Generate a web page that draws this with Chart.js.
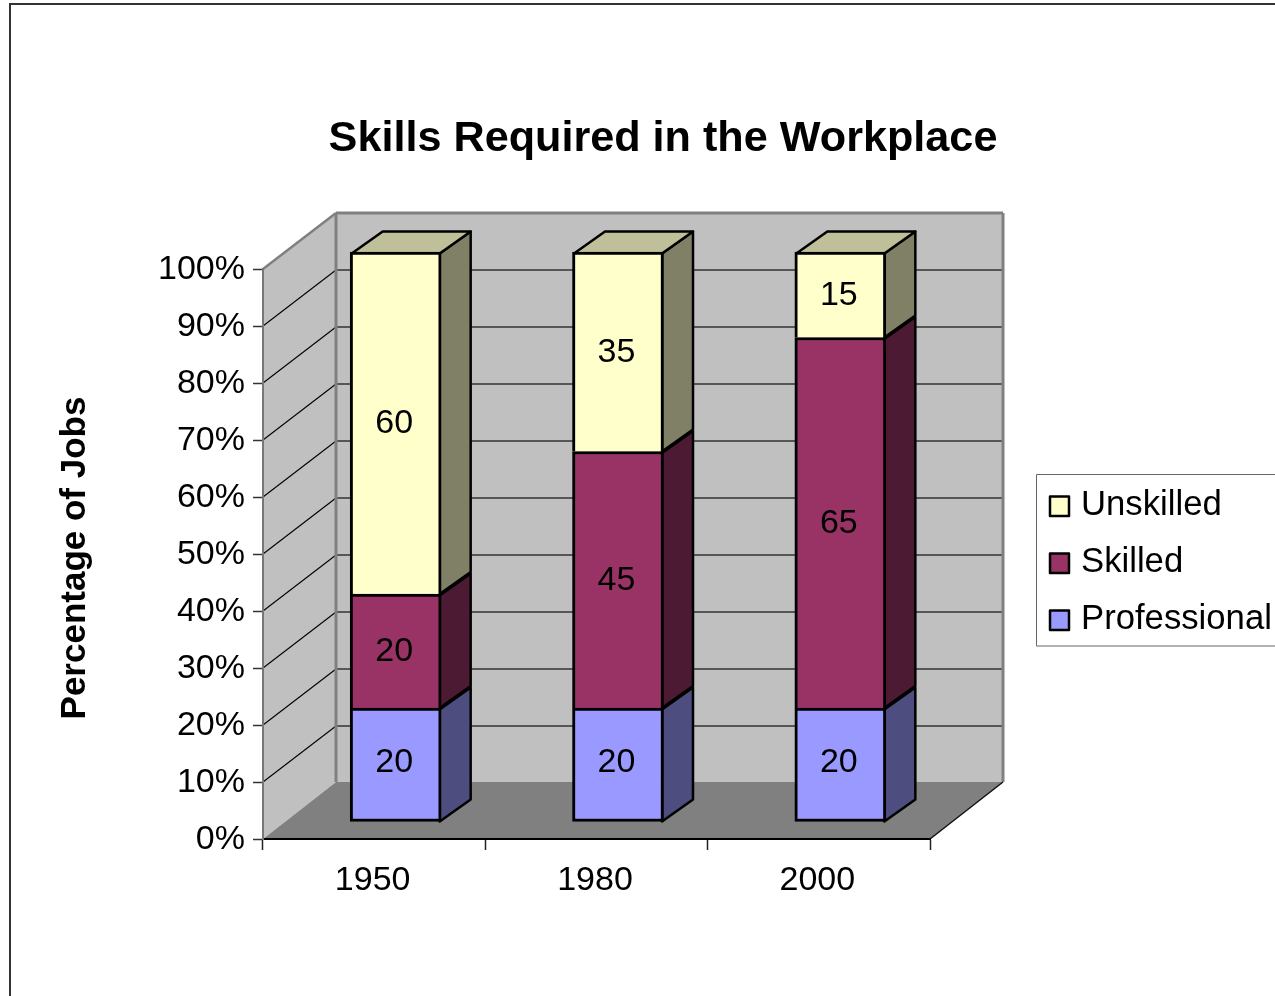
<!DOCTYPE html>
<html>
<head>
<meta charset="utf-8">
<title>Skills Required in the Workplace</title>
<script src="https://cdn.jsdelivr.net/npm/chart.js@4/dist/chart.umd.min.js"></script>
<style>
  html, body { margin: 0; padding: 0; background: #fff; overflow: hidden; }
  canvas { display: block; }
</style>
</head>
<body>
<canvas id="myChart" width="1275" height="996"></canvas>
<script>
const years = ['1950', '1980', '2000'];
const professional = [20, 20, 20];
const skilled = [20, 45, 65];
const unskilled = [60, 35, 15];

const FONT = '"Liberation Sans", Arial, sans-serif';
const frontColors = ['#9999FF', '#993366', '#FFFFCC'];
const sideColors = ['#4D4D80', '#4D1A33', '#808066'];
const topColor = '#BFBF99';

// how far the back wall sits from the axes, and the bars from the axes
const wallX = 73, wallY = -56;
const barX = 21.5, barY = -17;
const depthX = 31, depthY = -22;

function poly(ctx, pts, fill, stroke, lw) {
  ctx.beginPath();
  pts.forEach((p, i) => i ? ctx.lineTo(p[0], p[1]) : ctx.moveTo(p[0], p[1]));
  ctx.closePath();
  if (fill) { ctx.fillStyle = fill; ctx.fill(); }
  if (stroke) { ctx.strokeStyle = stroke; ctx.lineWidth = lw; ctx.lineJoin = 'round'; ctx.stroke(); }
}

function line(ctx, x1, y1, x2, y2, color, lw) {
  ctx.beginPath();
  ctx.moveTo(x1, y1);
  ctx.lineTo(x2, y2);
  ctx.strokeStyle = color;
  ctx.lineWidth = lw;
  ctx.stroke();
}

const box3d = {
  id: 'box3d',
  afterLayout(chart) {
    // title is centred on the picture area, not on the plot
    chart.titleBlock.left = 0;
    chart.titleBlock.right = 1326;
    // axis title sits a little below the middle of the axis
    const y = chart.scales.y, drawTitle = y.drawTitle;
    y.drawTitle = function () {
      this.ctx.save();
      this.ctx.translate(0, 4);
      drawTitle.call(this);
      this.ctx.restore();
    };
  },
  beforeDraw(chart) {
    const ctx = chart.ctx, a = chart.chartArea, y = chart.scales.y;
    ctx.save();
    // page frame
    line(ctx, 10, 4, 1275, 4, '#333', 2);
    line(ctx, 10, 3, 10, 996, '#333', 2);

    const l = a.left, r = a.right, t = a.top, b = a.bottom;
    const floorY = b + wallY - 1;
    poly(ctx, [[l + wallX, t + wallY], [r + wallX, t + wallY], [r + wallX, floorY], [l + wallX, floorY]], '#C0C0C0');
    poly(ctx, [[l, t], [l + wallX, t + wallY], [l + wallX, floorY], [l, b]], '#C0C0C0');
    poly(ctx, [[l, b], [r, b], [r + wallX, floorY], [l + wallX, floorY]], '#808080');

    y.ticks.forEach(tick => {
      if (tick.value === 0 || tick.value === 100) return;
      const py = y.getPixelForValue(tick.value);
      line(ctx, l, py, l + wallX, py + wallY, '#000', 1.1);
      line(ctx, l + wallX, py + wallY, r + wallX, py + wallY, '#333', 1.3);
    });

    // wall edges
    line(ctx, l, t, l + wallX, t + wallY, '#808080', 2.5);
    line(ctx, l + wallX, t + wallY, r + wallX, t + wallY, '#808080', 3);
    line(ctx, l + wallX, t + wallY, l + wallX, floorY, '#808080', 3);
    line(ctx, r + wallX, t + wallY, r + wallX, floorY, '#808080', 3);
    line(ctx, r, b, r + wallX, floorY, '#111', 1.5);
    ctx.restore();
  },
  beforeDatasetsDraw(chart) {
    const ctx = chart.ctx;
    ctx.save();
    ctx.translate(barX, barY);
    const last = chart.data.datasets.length - 1;
    chart.data.datasets.forEach((ds, d) => {
      chart.getDatasetMeta(d).data.forEach(bar => {
        const right = bar.x + bar.width / 2 - 1.5;
        const left = bar.x - bar.width / 2 + 1.5;
        const top = bar.y + 1.5;
        poly(ctx, [[right, top], [right + depthX, top + depthY], [right + depthX, bar.base + depthY], [right, bar.base]],
          sideColors[d], '#000', 2.5);
        if (d === last) {
          poly(ctx, [[left, top], [left + depthX, top + depthY], [right + depthX, top + depthY], [right, top]],
            topColor, '#000', 2.5);
        }
      });
    });
  },
  afterDatasetsDraw(chart) {
    const ctx = chart.ctx;
    ctx.font = '34px ' + FONT;
    ctx.fillStyle = '#000';
    ctx.textAlign = 'center';
    ctx.textBaseline = 'middle';
    chart.data.datasets.forEach((ds, d) => {
      chart.getDatasetMeta(d).data.forEach((bar, i) => {
        ctx.fillText(String(ds.data[i]), bar.x - 1.5, (bar.y + bar.base) / 2 + (d === 0 ? -2 : 1));
      });
    });
    ctx.restore();

    // legend, top entry is the top stack
    ctx.save();
    poly(ctx, [[1036.5, 474.5], [1276, 474.5], [1276, 646], [1036.5, 646]], '#fff', '#666', 1);
    ctx.font = '34.7px ' + FONT;
    ctx.textAlign = 'left';
    ctx.textBaseline = 'middle';
    const ds = chart.data.datasets;
    for (let i = 0; i < ds.length; i++) {
      const item = ds[ds.length - 1 - i];
      const ty = 504 + i * 57;
      poly(ctx, [[1050, ty - 7.5], [1069, ty - 7.5], [1069, ty + 12], [1050, ty + 12]], item.backgroundColor, '#000', 2.5);
      ctx.fillStyle = '#000';
      ctx.fillText(item.label, 1081, ty + 1);
    }
    ctx.restore();
  }
};

const bottomClosed = { top: 3, left: 3, right: 3, bottom: 3 };
const bottomOpen = { top: 3, left: 3, right: 3, bottom: 0 };

new Chart(document.getElementById('myChart'), {
  type: 'bar',
  plugins: [box3d],
  data: {
    labels: years,
    datasets: [
      { label: 'Professional', data: professional, backgroundColor: frontColors[0], borderColor: '#000', borderWidth: bottomClosed, borderSkipped: false, barThickness: 91, clip: false },
      { label: 'Skilled', data: skilled, backgroundColor: frontColors[1], borderColor: '#000', borderWidth: bottomOpen, borderSkipped: false, barThickness: 91, clip: false },
      { label: 'Unskilled', data: unskilled, backgroundColor: frontColors[2], borderColor: '#000', borderWidth: bottomOpen, borderSkipped: false, barThickness: 91, clip: false }
    ]
  },
  options: {
    responsive: false,
    animation: false,
    layout: { padding: { left: 0, right: 345, top: 0, bottom: 0 } },
    plugins: {
      legend: { display: false },
      tooltip: { enabled: false },
      title: {
        display: true,
        text: 'Skills Required in the Workplace',
        color: '#000',
        font: { family: FONT, size: 43.2, weight: 'bold' },
        padding: { top: 113, bottom: 104.16 }
      }
    },
    scales: {
      x: {
        stacked: true,
        afterFit: s => { s.height = 157; },
        border: { color: '#000', width: 2 },
        grid: { drawOnChartArea: false, tickLength: 11, tickColor: '#222', tickWidth: 1.5 },
        ticks: { color: '#000', font: { family: FONT, size: 34 }, padding: 10, labelOffset: -1.5, maxRotation: 0 }
      },
      y: {
        stacked: true,
        min: 0,
        max: 100,
        afterFit: s => { s.width = 263; },
        border: { color: '#777', width: 2 },
        grid: { drawOnChartArea: false, tickLength: 10, tickColor: '#333', tickWidth: 1.5 },
        ticks: {
          stepSize: 10,
          color: '#000',
          padding: 8,
          labelOffset: 1,
          font: { family: FONT, size: 34 },
          callback: v => v + '%'
        },
        title: {
          display: true,
          text: 'Percentage of Jobs',
          color: '#000',
          font: { family: FONT, size: 35, weight: 'bold' },
          padding: { top: 54, bottom: 0 }
        }
      }
    }
  }
});
</script>
</body>
</html>
